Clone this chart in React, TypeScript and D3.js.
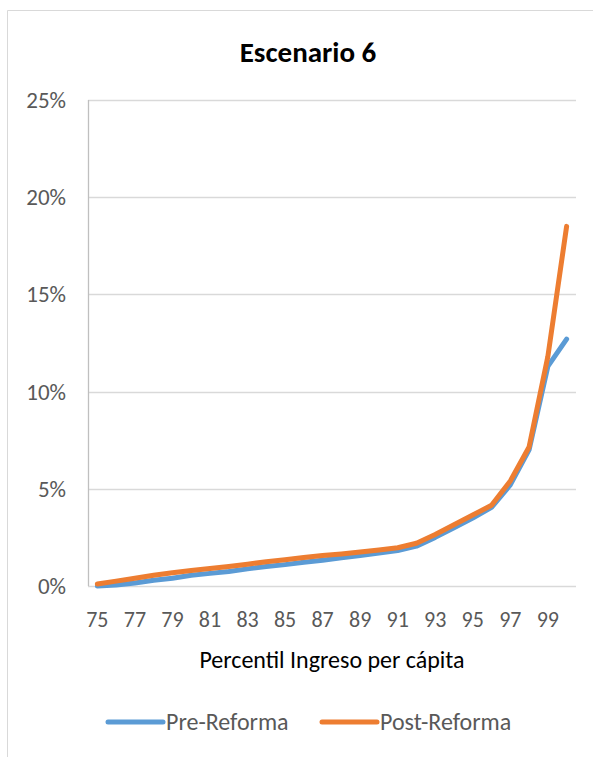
import React from "react";
import * as d3 from "d3";

const categories = [75,76,77,78,79,80,81,82,83,84,85,86,87,88,89,90,91,92,93,94,95,96,97,98,99,100];
const preReforma = [0.0,0.05,0.15,0.3,0.4,0.55,0.65,0.75,0.88,1.0,1.1,1.22,1.33,1.45,1.57,1.7,1.82,2.05,2.5,3.0,3.5,4.05,5.2,7.0,11.3,12.7];
const postReforma = [0.1,0.25,0.4,0.55,0.68,0.8,0.9,1.0,1.12,1.25,1.35,1.47,1.57,1.65,1.75,1.85,1.97,2.2,2.65,3.15,3.65,4.15,5.4,7.15,11.8,18.5];
const yTicks = [0,5,10,15,20,25];
const xTickLabels = [75,77,79,81,83,85,87,89,91,93,95,97,99];
const seriesNames = ["Pre-Reforma", "Post-Reforma"];
const colors = ["#5B9BD5", "#ED7D31"];

export default function App() {
  const W = 593, H = 757;
  const left = 88, right = 576, top = 100, bottom = 586;
  const x = d3.scaleBand<number>().domain(categories).range([left, right]);
  const y = d3.scaleLinear().domain([0, 25]).range([bottom, top]);
  const cx = (c: number) => (x(c) as number) + x.bandwidth() / 2;
  const line = d3.line<number>().x((_, i) => cx(categories[i])).y(v => y(v));
  const font = "Calibri, Carlito, 'Open Sans', 'Liberation Sans', sans-serif";
  return (
    <svg width={W} height={H} style={{ position: "absolute", left: 0, top: 0, display: "block" }}>
      <rect x={0} y={0} width={W} height={H} fill="#fff" />
      <line x1={7.5} y1={10.5} x2={W} y2={10.5} stroke="#d9d9d9" />
      <line x1={7.5} y1={10.5} x2={7.5} y2={H} stroke="#d9d9d9" />
      <text x={308} y={62} textAnchor="middle" fontFamily={font} fontWeight="bold" fontSize={29} fill="#000">Escenario 6</text>
      {yTicks.map(t => (
        <g key={t}>
          <line x1={left} x2={right} y1={Math.round(y(t)) + 0.5} y2={Math.round(y(t)) + 0.5} stroke="#d9d9d9" strokeWidth={1.3} />
          <text x={66} y={y(t) + 8} textAnchor="end" fontFamily={font} fontSize={23} fill="#595959">{t}%</text>
        </g>
      ))}
      <line x1={left + 0.5} x2={left + 0.5} y1={top} y2={bottom} stroke="#bfbfbf" strokeWidth={1.3} />
      {xTickLabels.map(c => (
        <text key={c} x={cx(c)} y={627} textAnchor="middle" fontFamily={font} fontSize={22} fill="#595959">{c}</text>
      ))}
      <text x={332} y={668} textAnchor="middle" fontFamily={font} fontSize={24} fill="#000">Percentil Ingreso per cápita</text>
      {[preReforma, postReforma].map((s, i) => (
        <path key={i} d={line(s) || ""} fill="none" stroke={colors[i]} strokeWidth={5} strokeLinejoin="round" strokeLinecap="round" />
      ))}
      {seriesNames.map((n, i) => {
        const lx = i === 0 ? 108 : 322;
        return (
          <g key={n}>
            <line x1={lx} x2={lx + 55} y1={722} y2={722} stroke={colors[i]} strokeWidth={5} strokeLinecap="round" />
            <text x={lx + 58} y={730} fontFamily={font} fontSize={24} fill="#595959">{n}</text>
          </g>
        );
      })}
    </svg>
  );
}
